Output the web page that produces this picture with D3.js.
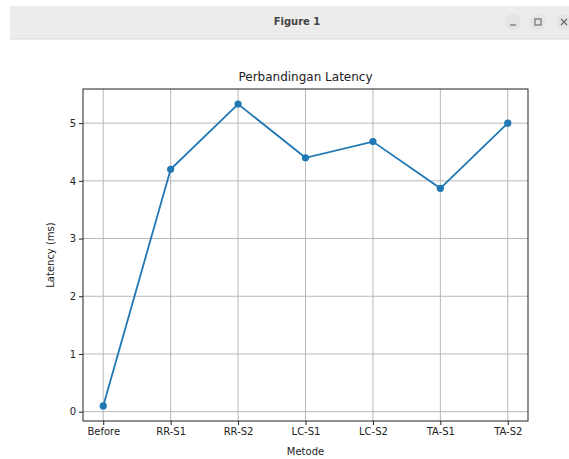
<!DOCTYPE html>
<html>
<head>
<meta charset="utf-8">
<script src="https://cdn.jsdelivr.net/npm/d3@7"></script>
<style>
  body { margin: 0; background: #fff; }
  text { font-family: "DejaVu Sans", sans-serif; }
</style>
</head>
<body>
<script>
// categories and latency values (ms)
var metode = ["Before", "RR-S1", "RR-S2", "LC-S1", "LC-S2", "TA-S1", "TA-S2"];
var latency = [0.1, 4.2, 5.33, 4.4, 4.68, 3.87, 5.0];
var yTicks = [0, 1, 2, 3, 4, 5];

var w = 569, h = 459;

//plot area (window.top is taken, so use other names)
var plotLeft = 83, plotRight = 528, plotTop = 89, plotBottom = 421;

var svg = d3.select("body").append("svg")
    .attr("width", w)
    .attr("height", h);

svg.append("rect").attr("width", w).attr("height", h).attr("fill", "#fff");

//window title bar
svg.append("rect")
    .attr("x", 10).attr("y", 6)
    .attr("width", 570).attr("height", 33)
    .attr("fill", "#ececec");
svg.append("line")
    .attr("x1", 10).attr("x2", 569)
    .attr("y1", 39).attr("y2", 39)
    .attr("stroke", "#d8d8d8");
svg.append("text")
    .attr("x", 297).attr("y", 25)
    .attr("text-anchor", "middle")
    .attr("font-size", 10)
    .attr("font-weight", "bold")
    .attr("fill", "#444")
    .text("Figure 1");
[513, 538, 564].forEach(function(cx) {
    svg.append("circle").attr("cx", cx).attr("cy", 22).attr("r", 8).attr("fill", "#e4e4e4");
});
svg.append("line").attr("x1", 510).attr("x2", 516).attr("y1", 25).attr("y2", 25)
    .attr("stroke", "#666").attr("stroke-width", 1.1);
svg.append("rect").attr("x", 535).attr("y", 19).attr("width", 6).attr("height", 6)
    .attr("fill", "none").attr("stroke", "#666").attr("stroke-width", 1.1);
svg.append("path").attr("d", "M561,19L567,25M567,19L561,25")
    .attr("stroke", "#666").attr("stroke-width", 1.1);

//scales
var x = d3.scalePoint()
    .domain(metode)
    .range([plotLeft, plotRight])
    .padding(0.3);

var ymin = d3.min(latency), ymax = d3.max(latency);
var pad = (ymax - ymin) * 0.05;
var y = d3.scaleLinear()
    .domain([ymin - pad, ymax + pad])
    .range([plotBottom, plotTop]);

//grid
var grid = svg.append("g").attr("stroke", "#b0b0b0").attr("stroke-width", 0.9);
grid.selectAll(".gx").data(metode).enter().append("line")
    .attr("x1", function(d) { return x(d); })
    .attr("x2", function(d) { return x(d); })
    .attr("y1", plotTop).attr("y2", plotBottom);
grid.selectAll(".gy").data(yTicks).enter().append("line")
    .attr("x1", plotLeft).attr("x2", plotRight)
    .attr("y1", function(d) { return y(d); })
    .attr("y2", function(d) { return y(d); });

//axes
var xAxis = svg.append("g")
    .attr("transform", "translate(0," + plotBottom + ")")
    .call(d3.axisBottom(x).tickSize(4).tickPadding(3));
var yAxis = svg.append("g")
    .attr("transform", "translate(" + plotLeft + ",0)")
    .call(d3.axisLeft(y).tickValues(yTicks).tickFormat(d3.format("d")).tickSize(4).tickPadding(3));
[xAxis, yAxis].forEach(function(a) {
    a.select(".domain").remove();
    a.selectAll("text").attr("font-size", 10).attr("font-family", "DejaVu Sans").attr("fill", "#222");
    a.selectAll("line").attr("stroke", "#222");
});

//frame
svg.append("rect")
    .attr("x", plotLeft).attr("y", plotTop)
    .attr("width", plotRight - plotLeft).attr("height", plotBottom - plotTop)
    .attr("fill", "none").attr("stroke", "#222").attr("stroke-width", 1);

//line and markers
var line = d3.line()
    .x(function(d, i) { return x(metode[i]); })
    .y(function(d) { return y(d); });

svg.append("path")
    .datum(latency)
    .attr("d", line)
    .attr("fill", "none")
    .attr("stroke", "#1f77b4")
    .attr("stroke-width", 1.8);

svg.selectAll(".pt").data(latency).enter().append("circle")
    .attr("cx", function(d, i) { return x(metode[i]); })
    .attr("cy", function(d) { return y(d); })
    .attr("r", 3.6)
    .attr("fill", "#1f77b4");

//labels
svg.append("text")
    .attr("x", (plotLeft + plotRight) / 2).attr("y", 81)
    .attr("text-anchor", "middle")
    .attr("font-size", 12)
    .attr("fill", "#222")
    .text("Perbandingan Latency");

svg.append("text")
    .attr("x", (plotLeft + plotRight) / 2).attr("y", 455)
    .attr("text-anchor", "middle")
    .attr("font-size", 10)
    .attr("fill", "#222")
    .text("Metode");

svg.append("text")
    .attr("transform", "translate(54," + ((plotTop + plotBottom) / 2) + ") rotate(-90)")
    .attr("text-anchor", "middle")
    .attr("font-size", 10)
    .attr("fill", "#222")
    .text("Latency (ms)");
</script>
</body>
</html>
